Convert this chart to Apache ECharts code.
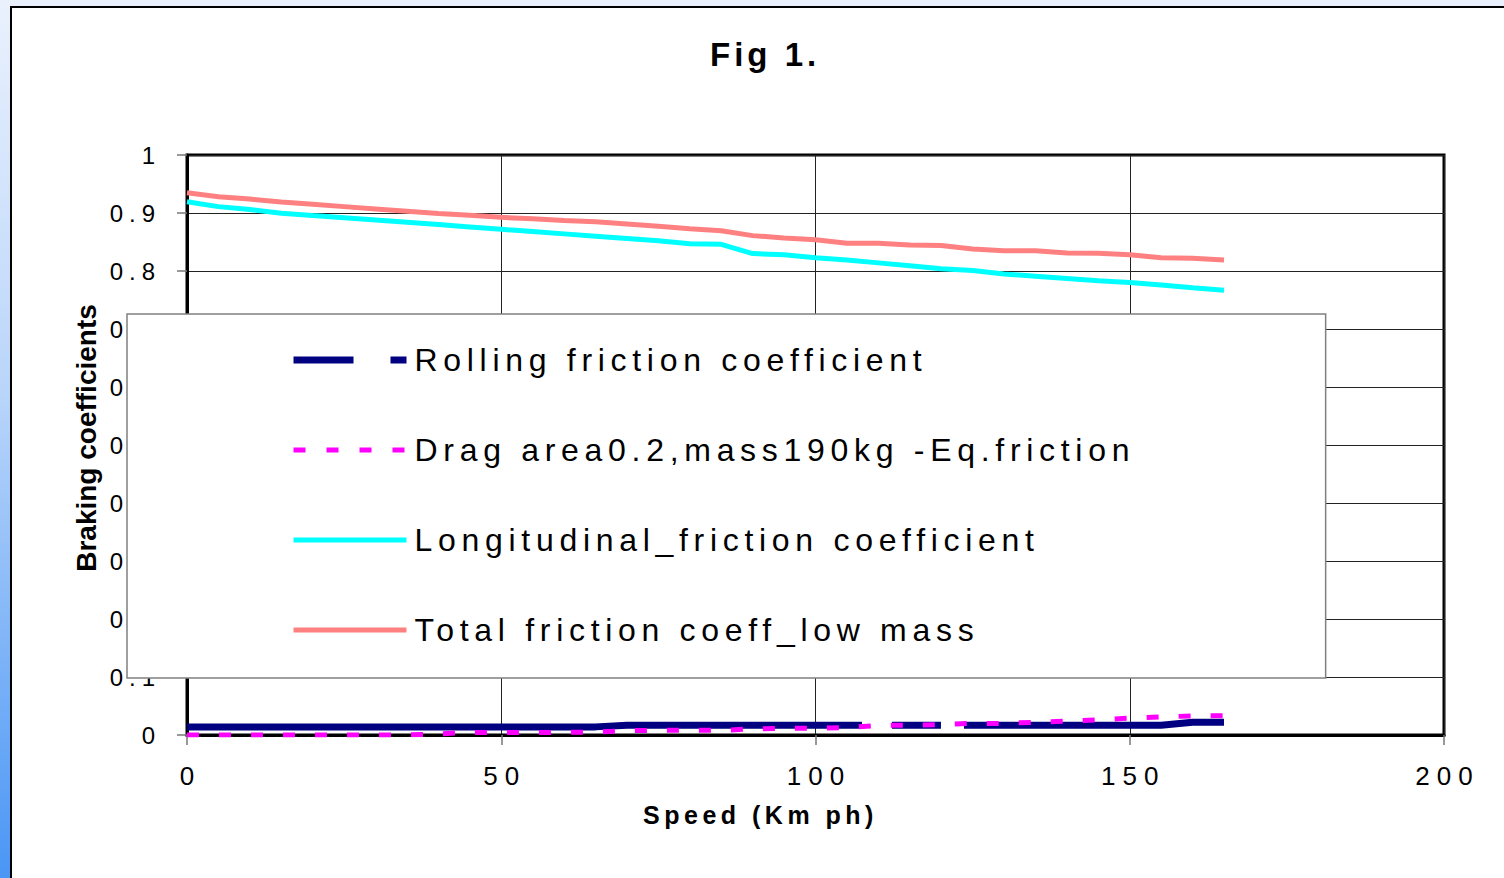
<!DOCTYPE html>
<html>
<head>
<meta charset="utf-8">
<script src="https://cdn.jsdelivr.net/npm/echarts@6/dist/echarts.min.js"></script>
<style>
html, body { margin: 0; padding: 0; }
body { width: 1504px; height: 878px; position: relative; overflow: hidden;
  background: linear-gradient(to bottom, #eaf1fd 0%, #b9d5fa 45%, #4a96f5 100%); }
#frame { position: absolute; left: 10px; top: 6px; width: 1494px; height: 872px;
  background: #fff; border-left: 2px solid #000; border-top: 2px solid #000; box-sizing: border-box; }
#main { position: absolute; left: 0; top: 0; width: 1504px; height: 878px; }
/* letter spacing like the original picture */
#main text[style*="33px"] { letter-spacing: 4px; }
#main text[style*="32px"] { letter-spacing: 5.7px; }
#main text[style*="26px"] { letter-spacing: 7px; }
#main text[style*="24px"] { letter-spacing: 6px; }
#main text[style*="25px"] { letter-spacing: 4.5px; }
</style>
</head>
<body>
<div id="frame"></div>
<div id="main"></div>
<script>
// speed km/h
var speeds = [0,5,10,15,20,25,30,35,40,45,50,55,60,65,70,75,80,85,90,95,100,105,110,115,120,125,130,135,140,145,150,155,160,165];
// rolling friction coefficient
var rolling = [0.014,0.014,0.014,0.014,0.014,0.014,0.014,0.014,0.014,0.014,0.014,0.014,0.014,0.014,
  0.017,0.017,0.017,0.017,0.017,0.017,0.017,0.017,0.017,0.017,0.017,0.017,0.017,0.017,0.017,0.017,0.017,0.017,
  0.022,0.022];
// drag area0.2, mass190kg - eq. friction
var drag = [0,0,0,0,0,0,0,0,0.002,0.0045,0.0045,0.0045,0.0045,0.005,0.0075,0.008,0.008,0.008,
  0.0105,0.0115,0.0115,0.013,0.0165,0.0168,0.018,0.020,0.020,0.022,0.024,0.026,0.029,0.031,0.033,0.033];
// longitudinal friction coefficient
var longit = [0.9195,0.911,0.906,0.8995,0.8955,0.892,0.888,0.884,0.880,0.876,0.872,0.868,0.864,0.860,0.856,0.852,0.847,0.846,
  0.830,0.828,0.823,0.819,0.814,0.809,0.804,0.801,0.795,0.791,0.787,0.783,0.780,0.776,0.771,0.767];
// total friction coeff, low mass
var total = [0.935,0.928,0.924,0.919,0.915,0.911,0.907,0.903,0.899,0.896,0.8925,0.890,0.887,0.885,0.881,0.877,0.873,0.8695,
  0.861,0.857,0.854,0.848,0.848,0.845,0.844,0.838,0.835,0.835,0.831,0.8305,0.828,0.823,0.822,0.819];

var names = ['Rolling friction coefficient','Drag area0.2,mass190kg -Eq.friction','Longitudinal_friction coefficient','Total friction coeff_low mass'];
var colors = ['#000080','#ff00ff','#00ffff','#ff8080'];

function pairs(ys){
  var out = [];
  for(var i = 0; i < speeds.length; i++){
    out.push([speeds[i], ys[i]]);
  }
  return out;
}

var font = 'Liberation Sans';
var noMark = {color: 'transparent', borderWidth: 0, opacity: 0};
var myChart = echarts.init(document.getElementById('main'), null, {renderer: 'svg'});
var option = {
  backgroundColor: 'transparent',
  animation: false,
  title: {
    text: 'Fig 1.',
    left: 705,
    top: 33,
    textStyle: {fontFamily: font, fontSize: 33, fontWeight: 'bold', color: '#000'}
  },
  legend: {
    orient: 'vertical',
    left: 127,
    top: 314,
    padding: [26, 390, 28, 163],
    backgroundColor: '#fff',
    borderColor: '#808080',
    borderWidth: 1.5,
    borderRadius: 0,
    itemWidth: 113,
    itemHeight: 14,
    itemGap: 50,
    itemStyle: noMark,
    textStyle: {fontFamily: font, fontSize: 32, color: '#000', lineHeight: 40, padding: [0, 0, 0, 3]},
    data: [
      {name: names[0], itemStyle: noMark, lineStyle: {width: 7, type: [60, 37]}},
      {name: names[1], itemStyle: noMark, lineStyle: {width: 5, type: [12, 21]}},
      {name: names[2], itemStyle: noMark, lineStyle: {width: 5}},
      {name: names[3], itemStyle: noMark, lineStyle: {width: 5}}
    ]
  },
  grid: {
    left: 187, top: 155, right: 60, bottom: 143,
    show: true, borderColor: '#000', borderWidth: 3, backgroundColor: 'transparent'
  },
  xAxis: {
    type: 'value', min: 0, max: 200, interval: 50,
    name: 'Speed (Km ph)',
    nameLocation: 'middle',
    nameGap: 67,
    nameTextStyle: {fontFamily: font, fontSize: 25, fontWeight: 'bold', color: '#000', padding: [0, 110, 0, 0]},
    axisLine: {lineStyle: {color: '#000', width: 3}},
    axisTick: {length: 10, lineStyle: {color: '#777', width: 1.5}},
    axisLabel: {fontFamily: font, fontSize: 26, color: '#000', margin: 28, padding: [0, 0, 0, 7]},
    splitLine: {show: true, lineStyle: {color: '#222', width: 1}}
  },
  yAxis: {
    type: 'value', min: 0, max: 1, interval: 0.1,
    name: 'Braking coefficients',
    nameLocation: 'middle',
    nameRotate: 90,
    nameGap: 87,
    nameTextStyle: {fontFamily: font, fontSize: 28, fontWeight: 'bold', color: '#000', padding: [0, 0, 0, 14]},
    axisLine: {show: true, lineStyle: {color: '#000', width: 3}},
    axisTick: {show: true, length: 10, lineStyle: {color: '#777', width: 1.5}},
    axisLabel: {fontFamily: font, fontSize: 24, color: '#000', margin: 26},
    splitLine: {show: true, lineStyle: {color: '#222', width: 1}}
  },
  series: [
    {name: names[0], type: 'line', symbol: 'none', data: pairs(rolling),
      lineStyle: {color: colors[0], width: 7, type: [675, 30, 49, 23, 400, 10]}, itemStyle: {color: colors[0]}},
    {name: names[1], type: 'line', symbol: 'none', data: pairs(drag),
      lineStyle: {color: colors[1], width: 5, type: [12, 20]}, itemStyle: {color: colors[1]}},
    {name: names[2], type: 'line', symbol: 'none', data: pairs(longit),
      lineStyle: {color: colors[2], width: 5}, itemStyle: {color: colors[2]}},
    {name: names[3], type: 'line', symbol: 'none', data: pairs(total),
      lineStyle: {color: colors[3], width: 5}, itemStyle: {color: colors[3]}}
  ]
};
myChart.setOption(option);
</script>
</body>
</html>
